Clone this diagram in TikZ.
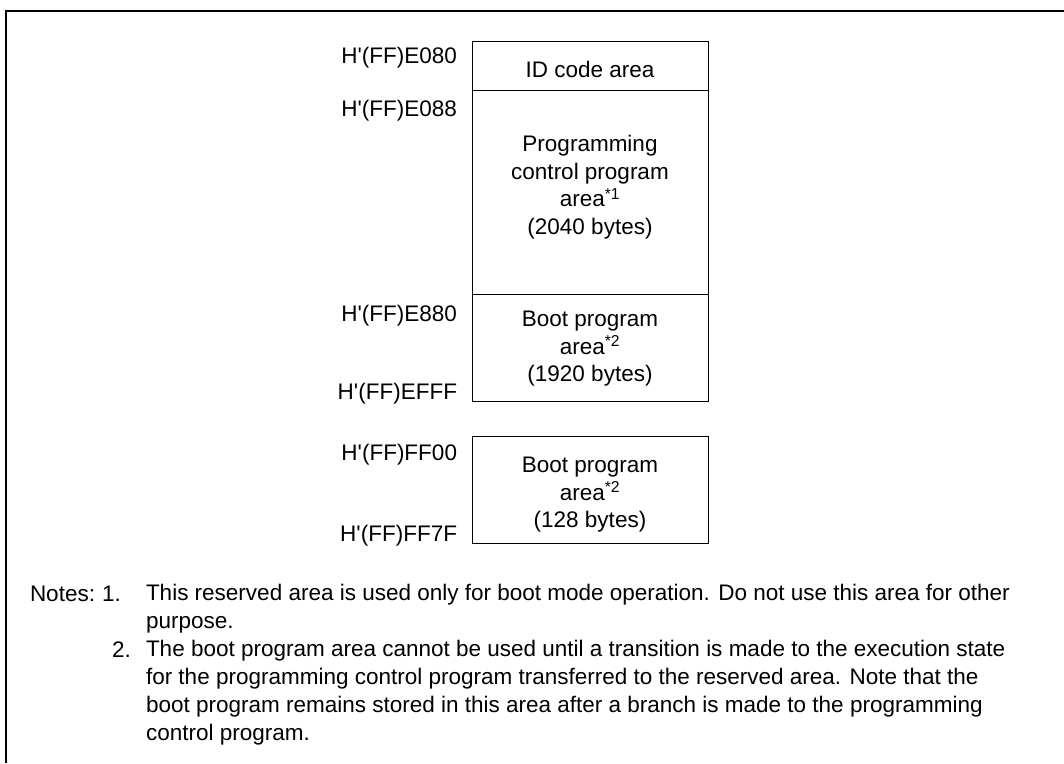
\documentclass[tikz,border=0pt]{standalone}
\usepackage{fontspec}
\setmainfont{Liberation Sans}
\newcommand{\hq}{H\textquotesingle(FF)}
\begin{document}
\begin{tikzpicture}[x=1pt,y=-1pt,
  every node/.style={font=\fontsize{22.5}{27.75}\selectfont, inner sep=0pt, outer sep=0pt},
  region/.style={draw, line width=1pt, minimum width=235.5pt, anchor=north west},
  addr/.style={anchor=base east},
  boxtxt/.style={anchor=center, align=center},
  notetxt/.style={anchor=north west, align=left, font=\fontsize{22.5}{28}\selectfont},
  notelbl/.style={anchor=base west},
  frameline/.style={line width=2pt}]
\useasboundingbox (0,0) rectangle (1064,763);
% outer frame (top and left only)
\coordinate (ftop) at (1064,11);
\coordinate (fcorner) at (6,11);
\coordinate (fbot) at (6,763);
\draw[frameline] (ftop) -- (fcorner) -- (fbot);
% memory regions
\node[region, minimum height=49pt]  (idbox)    at (472.5,41)  {};
\node[region, minimum height=204pt] (progbox)  at (472.5,90)  {};
\node[region, minimum height=107pt] (boot1box) at (472.5,294) {};
\node[region, minimum height=107pt] (boot2box) at (472.5,436) {};
% region texts
\node[anchor=base] (idtxt) at (590,77) {ID code area};
\node[boxtxt] (progtxt) at (590,187.2) {Programming\\control program\\area\textsuperscript{*1}\\(2040 bytes)};
\node[boxtxt] (boot1txt) at (590,348.7) {Boot program\\area\textsuperscript{*2}\\(1920 bytes)};
\node[boxtxt] (boot2txt) at (590,494.7) {Boot program\\area\textsuperscript{*2}\\(128 bytes)};
% addresses
\node[addr] (a1) at (457,63)  {\hq E080};
\node[addr] (a2) at (457,116) {\hq E088};
\node[addr] (a3) at (457,321) {\hq E880};
\node[addr] (a4) at (457,399) {\hq EFFF};
\node[addr] (a5) at (457,460) {\hq FF00};
\node[addr] (a6) at (457,541) {\hq FF7F};
% notes
\node[notelbl] (notes) at (30,601) {Notes:};
\node[notelbl] (n1) at (102,601) {1.};
\node[notetxt] (n1txt) at (146,584.6) {This reserved area is used only for boot mode operation. Do not use this area for other\\purpose.};
\node[notelbl] (n2) at (112,657) {2.};
\node[notetxt] (n2txt) at (146,640.6) {The boot program area cannot be used until a transition is made to the execution state\\for the programming control program transferred to the reserved area. Note that the\\boot program remains stored in this area after a branch is made to the programming\\control program.};
\end{tikzpicture}
\end{document}
